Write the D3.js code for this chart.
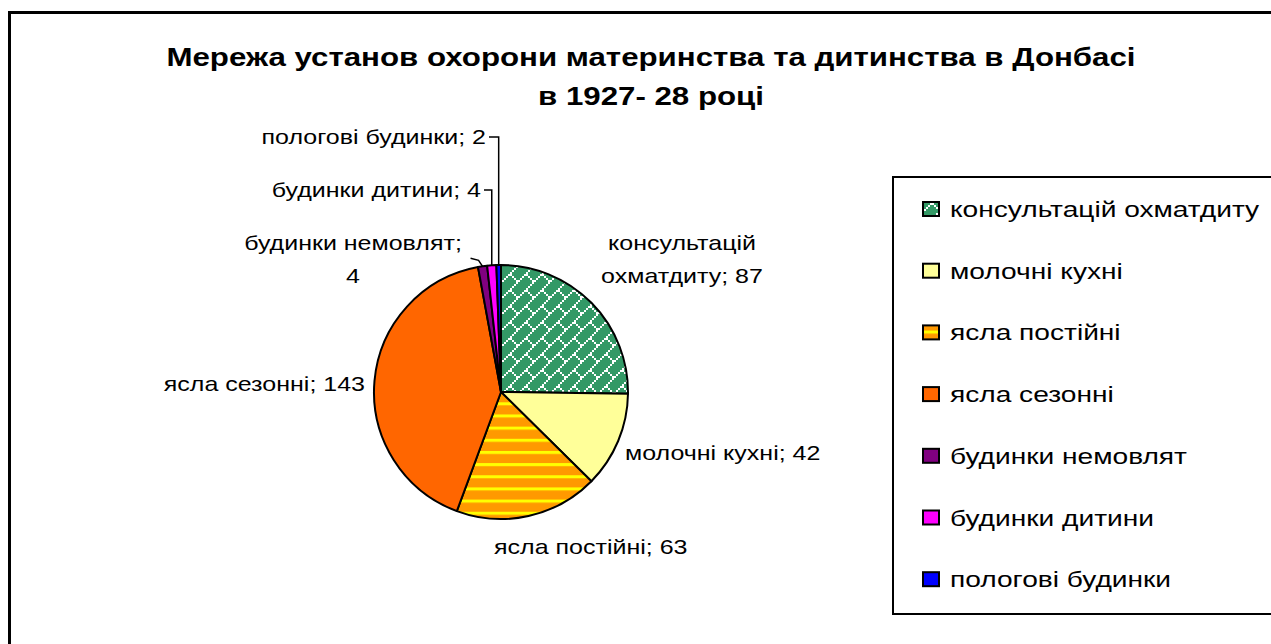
<!DOCTYPE html>
<html>
<head>
<meta charset="utf-8">
<script src="https://cdn.jsdelivr.net/npm/d3@7"></script>
<style>
  html, body { margin: 0; padding: 0; background: #fff; }
  svg { display: block; }
  text { font-family: "Liberation Sans", Arial, sans-serif; fill: #000; }
</style>
</head>
<body>
<svg id="chart" width="1271" height="644"></svg>
<script>
// ---- data ----
const titleLines = ["Мережа установ охорони материнства та дитинства в Донбасі", "в 1927- 28 році"];
const categories = ["консультацій охматдиту", "молочні кухні", "ясла постійні", "ясла сезонні", "будинки немовлят", "будинки дитини", "пологові будинки"];
const values = [87, 42, 63, 143, 4, 4, 2];
const labelLines = [["консультацій", "охматдиту; 87"], ["молочні кухні; 42"], ["ясла постійні; 63"], ["ясла сезонні; 143"], ["будинки немовлят;", "4"], ["будинки дитини; 4"], ["пологові будинки; 2"]];

// ---- styles / layout ----
const fills = ["url(#brick)", "#FFFF99", "url(#stripes)", "#FF6600", "#800080", "#FF00FF", "#0000FF"];
const cx = 501, cy = 392, R = 127;
// label placement relative to pie centre: dx, dy (first baseline), anchor, leader
const labelLayout = [
  {dx: 181, dy: -142, anchor: "middle"},
  {dx: 124, dy: 68, anchor: "start"},
  {dx: -7, dy: 162, anchor: "start"},
  {dx: -136, dy: -1, anchor: "end"},
  {dx: -148, dy: -142, anchor: "middle", leader: "hook"},
  {dx: -20, dy: -195, anchor: "end", leader: "elbow"},
  {dx: -15, dy: -248, anchor: "end", leader: "elbow"}
];
const labelFont = 20.5, labelStretch = 1.22;
const titleFont = 25, titleStretch = 1.25;
const legendFont = 22.5, legendStretch = 1.25;

const svg = d3.select("#chart");
const defs = svg.append("defs");

// diagonal brick pattern (8x8 scaled 2)
const brick = defs.append("pattern").attr("id", "brick")
  .attr("patternUnits", "userSpaceOnUse").attr("width", 8).attr("height", 8)
  .attr("patternTransform", "translate(1,2) scale(2)");
brick.append("rect").attr("width", 8).attr("height", 8).attr("fill", "#339966");
const brickBits = [0x01, 0x02, 0x04, 0x08, 0x18, 0x24, 0x42, 0x81];
brickBits.forEach((b, row) => {
  for (let col = 0; col < 8; col++) {
    if (b & (0x80 >> col)) brick.append("rect").attr("x", col).attr("y", row).attr("width", 1).attr("height", 1).attr("fill", "#fff");
  }
});

// horizontal stripes pattern
const stripes = defs.append("pattern").attr("id", "stripes")
  .attr("patternUnits", "userSpaceOnUse").attr("width", 8).attr("height", 8)
  .attr("patternTransform", "translate(0,10.3) scale(1.52)");
stripes.append("rect").attr("width", 8).attr("height", 8).attr("fill", "#FF9900");
stripes.append("rect").attr("y", 0).attr("width", 8).attr("height", 2).attr("fill", "#FFFF00");

// outer frame
svg.append("rect").attr("x", 9.5).attr("y", 12.5).attr("width", 1400).attr("height", 800)
  .attr("fill", "none").attr("stroke", "#000").attr("stroke-width", 3);

// stretched text helper
function stretchedText(parent, x, y, str, size, sx, anchor, weight) {
  return parent.append("text")
    .attr("transform", `translate(${x},${y}) scale(${sx},1)`)
    .attr("text-anchor", anchor).attr("font-size", size)
    .attr("font-weight", weight || "normal").text(str);
}

// title
titleLines.forEach((line, i) => {
  stretchedText(svg, 651, 66 + i * 39, line, titleFont, titleStretch, "middle", "bold");
});

// pie
const pie = d3.pie().sort(null).value(d => d)(values);
const arc = d3.arc().innerRadius(0).outerRadius(R);
const g = svg.append("g").attr("transform", `translate(${cx},${cy})`);
g.selectAll("path.slice").data(pie).join("path").attr("class", "slice")
  .attr("d", arc).attr("fill", (d, i) => fills[i])
  .attr("stroke", "#000").attr("stroke-width", 2).attr("stroke-linejoin", "round");

// labels + leaders
const lg = g.append("g");
pie.forEach((d, i) => {
  const L = labelLayout[i];
  labelLines[i].forEach((line, k) => {
    stretchedText(lg, L.dx, L.dy + k * 33, line, labelFont, labelStretch, L.anchor);
  });
  if (L.leader) {
    const mid = (d.startAngle + d.endAngle) / 2;
    const px = R * Math.sin(mid), py = -R * Math.cos(mid);
    let pts;
    if (L.leader === "elbow") {
      const ly = L.dy - 7;
      pts = [[px, py], [px, ly], [L.dx + 3, ly]];
    } else {
      pts = [[px, py], [px - 4, py - 6], [px - 12, py - 8]];
    }
    lg.append("path").attr("d", d3.line()(pts)).attr("fill", "none")
      .attr("stroke", "#000").attr("stroke-width", 1.5);
  }
});

// legend
const lgX = 893, lgY = 177;
svg.append("rect").attr("x", lgX).attr("y", lgY).attr("width", 500).attr("height", 437)
  .attr("fill", "#fff").attr("stroke", "#000").attr("stroke-width", 2);
const items = svg.append("g").selectAll("g").data(categories).join("g")
  .attr("transform", (d, i) => `translate(${lgX + 30},${209 + i * 61.7})`);
items.append("rect").attr("x", 0).attr("y", -7).attr("width", 16).attr("height", 14)
  .attr("fill", (d, i) => fills[i]).attr("stroke", "#000").attr("stroke-width", 2);
items.each(function (d) {
  stretchedText(d3.select(this), 27, 8, d, legendFont, legendStretch, "start");
});
</script>
</body>
</html>
